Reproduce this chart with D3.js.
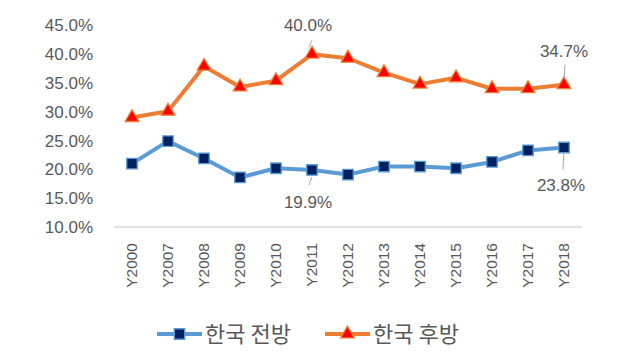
<!DOCTYPE html>
<html><head><meta charset="utf-8">
<script src="https://cdn.jsdelivr.net/npm/d3@7"></script>
<style>body{margin:0;background:#fff}svg{display:block}</style>
</head><body>
<script>
const categories = ["Y2000","Y2007","Y2008","Y2009","Y2010","Y2011","Y2012","Y2013","Y2014","Y2015","Y2016","Y2017","Y2018"];
const forward = [21.0,24.9,21.9,18.6,20.2,19.9,19.1,20.5,20.5,20.2,21.3,23.3,23.8];
const backward = [29.0,30.1,37.9,34.3,35.4,40.0,39.3,36.8,34.8,35.9,34.0,34.0,34.7];
const seriesNames = ["한국 전방","한국 후방"];
const yTicks = [10,15,20,25,30,35,40,45];

const W=633,H=360;
const svg=d3.select("body").append("svg").attr("width",W).attr("height",H);
const x=d3.scaleBand().domain(categories).range([114,582]);
const y=d3.scaleLinear().domain([10,45]).range([227,25.4]);
const numFont="'Liberation Sans',Arial,sans-serif";
const krFont="'Noto Sans CJK KR','Malgun Gothic',sans-serif";
const txt="#595959";

svg.append("line").attr("x1",114).attr("x2",582).attr("y1",y(10)).attr("y2",y(10)).attr("stroke","#d9d9d9").attr("stroke-width",1.3);

const yAxis=d3.axisLeft(y).tickValues(yTicks).tickFormat(d=>d.toFixed(1)+"%").tickSize(0).tickPadding(0);
const gy=svg.append("g").attr("transform","translate(93,0)").call(yAxis);
gy.select(".domain").remove();
gy.selectAll("text").attr("font-family",numFont).attr("font-size",17).attr("fill",txt);

const xAxis=d3.axisBottom(x).tickSize(0).tickPadding(0);
const gx=svg.append("g").attr("transform","translate(0,"+(y(10))+")").call(xAxis);
gx.select(".domain").remove();
gx.selectAll("text").attr("font-family",numFont).attr("font-size",15.5).attr("fill",txt)
  .attr("transform","rotate(-90)").attr("text-anchor","end").attr("x",-16).attr("y",0).attr("dy","0.35em");

const cx=d=>x(d)+x.bandwidth()/2;
const line=d3.line().x((d,i)=>cx(categories[i])).y(d=>y(d));
svg.append("path").datum(forward).attr("d",line).attr("fill","none").attr("stroke","#5B9BD5").attr("stroke-width",4).attr("stroke-linejoin","round");
svg.append("path").datum(backward).attr("d",line).attr("fill","none").attr("stroke","#ED7D31").attr("stroke-width",4).attr("stroke-linejoin","round");

const sq=d3.symbol().type(d3.symbolSquare).size(110);
const tri=d3.symbol().type(d3.symbolTriangle).size(80);
svg.selectAll(".f").data(forward).enter().append("path").attr("d",sq)
 .attr("transform",(d,i)=>`translate(${cx(categories[i])},${y(d)})`).attr("fill","#002060").attr("stroke","#5B9BD5").attr("stroke-width",1.3);
svg.selectAll(".b").data(backward).enter().append("path").attr("d",tri)
 .attr("transform",(d,i)=>`translate(${cx(categories[i])},${y(d)})`).attr("fill","#FF0000").attr("stroke","#ED7D31").attr("stroke-width",1.3);

// data labels
const labels=[
 {s:backward,i:5,dx:-4,dy:-29,lx1:0,ly1:-14,lx2:-3,ly2:-7},
 {s:backward,i:12,dx:0,dy:-34,lx1:1,ly1:-20,lx2:0,ly2:-6},
 {s:forward,i:5,dx:-4,dy:32,lx1:0,ly1:7,lx2:-3,ly2:15},
 {s:forward,i:12,dx:-3,dy:38,lx1:0,ly1:5,lx2:-1,ly2:22}
];
labels.forEach(l=>{
 const px=cx(categories[l.i]),py=y(l.s[l.i]);
 svg.append("line").attr("x1",px+l.lx1).attr("y1",py+l.ly1).attr("x2",px+l.lx2).attr("y2",py+l.ly2).attr("stroke","#a6a6a6").attr("stroke-width",1);
 svg.append("text").attr("x",px+l.dx).attr("y",py+l.dy).attr("dy","0.35em").attr("text-anchor","middle")
   .attr("font-family",numFont).attr("font-size",17).attr("fill",txt).text(l.s[l.i].toFixed(1)+"%");
});

// legend
const lg=[{x:157,c:"#5B9BD5",mf:"#002060",sym:sq},{x:325,c:"#ED7D31",mf:"#FF0000",sym:tri}];
lg.forEach((g,k)=>{
 const ly=334;
 svg.append("line").attr("x1",g.x).attr("x2",g.x+45).attr("y1",ly).attr("y2",ly).attr("stroke",g.c).attr("stroke-width",4);
 svg.append("path").attr("d",g.sym).attr("transform",`translate(${g.x+22.5},${ly})`).attr("fill",g.mf).attr("stroke",g.c).attr("stroke-width",1.3);
 svg.append("text").attr("x",g.x+48).attr("y",ly).attr("dy","0.36em").attr("font-family",krFont).attr("font-size",22).attr("fill",txt).text(seriesNames[k]);
});
</script>
</body></html>
